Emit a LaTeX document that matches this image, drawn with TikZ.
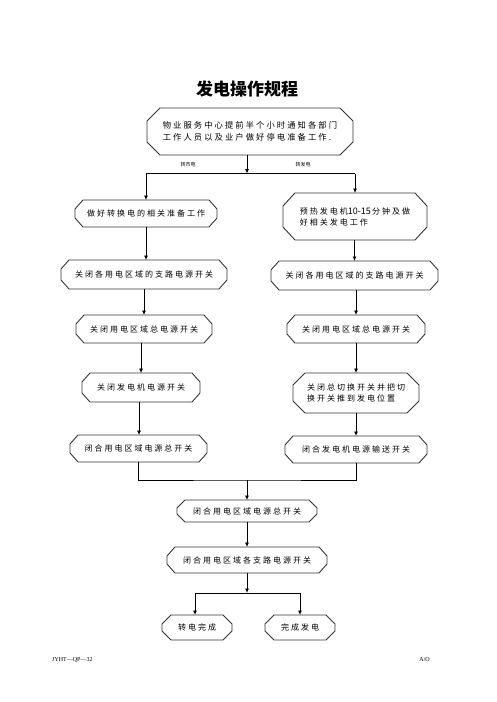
\documentclass[tikz,border=0pt]{standalone}
\usepackage{fontspec}
\usetikzlibrary{arrows.meta,calc}
\newfontfamily\cjk[LetterSpace=25]{Noto Sans CJK SC}
\newfontfamily\cjkplain{Noto Sans CJK SC}
\newfontfamily\tms{Liberation Serif}
\begin{document}
\begin{tikzpicture}[x=1pt,y=-1pt,
  box/.style={draw=none,shape=rectangle,inner sep=0pt,outer sep=0pt,align=left,font=\cjk\fontsize{8}{11}\selectfont},
  conn/.style={draw=black,line width=0.8pt},
  arr/.style={conn,-{Latex[length=4.5pt,width=4pt]}},
  boxline/.style={draw=black!80,line width=0.9pt,line join=miter},
  lbl/.style={font=\cjkplain\fontsize{5}{6}\selectfont,inner sep=0pt},
  foot/.style={font=\tms\fontsize{6}{7}\selectfont,inner sep=0pt}]
\path[use as bounding box] (0,0) rectangle (496,702);
\fill[white] (0,0) rectangle (496,702);

\node[inner sep=0pt,font=\cjkplain\bfseries\fontsize{17}{20}\selectfont] (title) at (247,89) {发电操作规程};

\node[box,minimum width=206pt,minimum height=47pt,font=\cjk\fontsize{8.3}{12}\selectfont] (top) at (250,131.5) {物业服务中心提前半个小时通知各部门\\工作人员以及业户做好停电准备工作.};

\node[box,minimum width=142pt,minimum height=27pt] (l2) at (146,213.5) {做好转换电的相关准备工作};
\node[box,minimum width=144pt,minimum height=47pt] (r2) at (355,216.5) {预热发电机{\cjkplain\fontsize{9}{11}\selectfont 10-15}\,分钟及做\\好相关发电工作};

\node[box,minimum width=166pt,minimum height=29pt] (l3) at (144,274.5) {关闭各用电区域的支路电源开关};
\node[box,minimum width=167pt,minimum height=29pt] (r3) at (354.5,275.5) {关闭各用电区域的支路电源开关};

\node[box,minimum width=136pt,minimum height=28pt] (l4) at (144,329) {关闭用电区域总电源开关};
\node[box,minimum width=138pt,minimum height=28pt] (r4) at (356,329) {关闭用电区域总电源开关};

\node[box,minimum width=118pt,minimum height=29pt] (l5) at (141,387.5) {关闭发电机电源开关};
\node[box,minimum width=126pt,minimum height=40pt] (r5) at (356,393) {关闭总切换开关并把切\\换开关推到发电位置};

\node[box,minimum width=137pt,minimum height=27pt] (l6) at (138.5,448.5) {闭合用电区域电源总开关};
\node[box,minimum width=142pt,minimum height=27pt] (r6) at (356,449.5) {闭合发电机电源输送开关};

\node[box,minimum width=140pt,minimum height=22pt] (m1) at (247,511) {闭合用电区域电源总开关};
\node[box,minimum width=160pt,minimum height=26pt] (m2) at (247,560) {闭合用电区域各支路电源开关};

\node[box,minimum width=70pt,minimum height=25pt] (f1) at (197,627.5) {转电完成};
\node[box,minimum width=70pt,minimum height=25pt] (f2) at (300,627.5) {完成发电};

% octagon outlines
\foreach \n/\cx/\cy in {top/13/13, l2/8/9, r2/12/13, l3/8/9, r3/8/9, l4/8/9, r4/8/9, l5/8/9, r5/12/12, l6/8/9, r6/8/9, m1/8/8, m2/8/9, f1/9/9, f2/9/9}{
  \draw[boxline] ([xshift=\cx pt]\n.north west) -- ([xshift=-\cx pt]\n.north east)
    -- ([yshift=-\cy pt]\n.north east) -- ([yshift=\cy pt]\n.south east)
    -- ([xshift=-\cx pt]\n.south east) -- ([xshift=\cx pt]\n.south west)
    -- ([yshift=\cy pt]\n.south west) -- ([yshift=-\cy pt]\n.north west) -- cycle;
}

% labels
\node[lbl] (lm) at (188,165) {转市电};
\node[lbl] (lf) at (303,165) {转发电};

% top split
\coordinate (j1) at (247,173.5);
\coordinate (j1L) at (146,173.5);
\coordinate (j1R) at (355,173.5);
\draw[arr] (top.south -| j1) -- (j1);
\draw[conn] (j1L) -- (j1R);
\draw[arr] (j1L) -- (l2.north);
\draw[arr] (j1R) -- (r2.north);

% left column
\draw[arr] (l2.south) -- (l2.south |- l3.north);
\draw[arr] (l3.south) -- (l3.south |- l4.north);
\draw[arr] ([xshift=-3pt]l4.south) -- ([xshift=-3pt]l4.south |- l5.north);
\draw[arr] ([xshift=-2pt]l5.south) -- ([xshift=-2pt]l5.south |- l6.north);

% right column
\draw[arr] (r2.south -| r3) -- (r3.north);
\draw[arr] (r3.south -| r4) -- (r4.north);
\draw[arr] (r4.south) -- (r5.north);
\draw[arr] (r5.south) -- (r6.north);

% merge
\coordinate (m0) at (247,480);
\draw[conn] (l6.south) |- (m0) -| (r6.south);
\draw[arr] (m0) -- (m1.north);
\draw[arr] (m1.south) -- (m2.north);

% final split
\coordinate (s0) at (247,593);
\draw[arr] (m2.south) -- (s0);
\draw[arr] (s0) -| ([xshift=-2pt]f1.north);
\draw[arr] (s0) -| (f2.north);

% footer
\node[foot,anchor=west] (fl) at (52,660) {JYHT—QP—32};
\node[foot,anchor=east] (fr) at (430,660) {A/O};
\end{tikzpicture}
\end{document}
